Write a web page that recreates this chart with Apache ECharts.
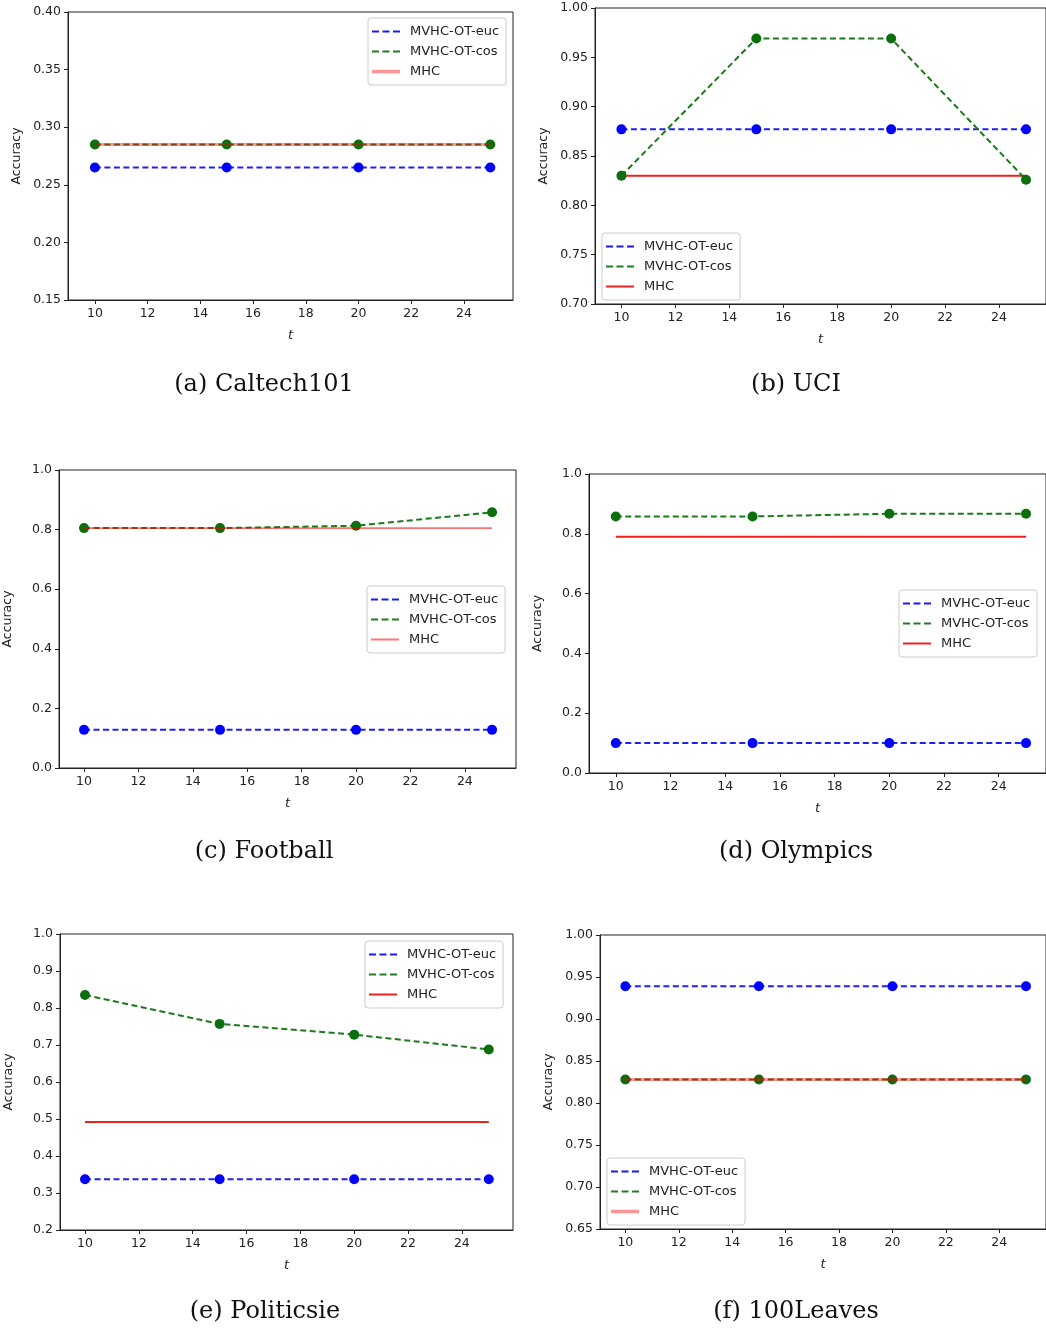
<!DOCTYPE html>
<html>
<head>
<meta charset="utf-8">
<title>Accuracy vs t</title>
<script src="https://cdn.jsdelivr.net/npm/echarts@6/dist/echarts.min.js"></script>
<style>
html,body{margin:0;padding:0;background:#fff;}
#main{width:1046px;height:1330px;}
</style>
</head>
<body>
<div id="main"></div>
<script>
var tValues = [10, 15, 20, 25];
var xTickValues = [10, 12, 14, 16, 18, 20, 22, 24];
var seriesNames = ["MVHC-OT-euc", "MVHC-OT-cos", "MHC"];
var captions = ["(a) Caltech101", "(b) UCI", "(c) Football", "(d) Olympics", "(e) Politicsie", "(f) 100Leaves"];

var caltechEuc = [0.265, 0.265, 0.265, 0.265];
var caltechCos = [0.285, 0.285, 0.285, 0.285];
var caltechMhc = [0.285, 0.285, 0.285, 0.285];
var caltechTicks = [0.15, 0.20, 0.25, 0.30, 0.35, 0.40];

var uciEuc = [0.877, 0.877, 0.877, 0.877];
var uciCos = [0.830, 0.969, 0.969, 0.826];
var uciMhc = [0.830, 0.830, 0.830, 0.830];
var uciTicks = [0.70, 0.75, 0.80, 0.85, 0.90, 0.95, 1.00];

var footballEuc = [0.128, 0.128, 0.128, 0.128];
var footballCos = [0.805, 0.805, 0.813, 0.858];
var footballMhc = [0.805, 0.805, 0.805, 0.805];
var footballTicks = [0.0, 0.2, 0.4, 0.6, 0.8, 1.0];

var olympicsEuc = [0.100, 0.100, 0.100, 0.100];
var olympicsCos = [0.858, 0.858, 0.867, 0.867];
var olympicsMhc = [0.790, 0.790, 0.790, 0.790];
var olympicsTicks = [0.0, 0.2, 0.4, 0.6, 0.8, 1.0];

var politicsEuc = [0.337, 0.337, 0.337, 0.337];
var politicsCos = [0.835, 0.757, 0.728, 0.688];
var politicsMhc = [0.492, 0.492, 0.492, 0.492];
var politicsTicks = [0.2, 0.3, 0.4, 0.5, 0.6, 0.7, 0.8, 0.9, 1.0];

var leavesEuc = [0.939, 0.939, 0.939, 0.939];
var leavesCos = [0.828, 0.828, 0.828, 0.828];
var leavesMhc = [0.828, 0.828, 0.828, 0.828];
var leavesTicks = [0.65, 0.70, 0.75, 0.80, 0.85, 0.90, 0.95, 1.00];

var panelData = [
    {euc: caltechEuc, cos: caltechCos, mhc: caltechMhc, ticks: caltechTicks},
    {euc: uciEuc, cos: uciCos, mhc: uciMhc, ticks: uciTicks},
    {euc: footballEuc, cos: footballCos, mhc: footballMhc, ticks: footballTicks},
    {euc: olympicsEuc, cos: olympicsCos, mhc: olympicsMhc, ticks: olympicsTicks},
    {euc: politicsEuc, cos: politicsCos, mhc: politicsMhc, ticks: politicsTicks},
    {euc: leavesEuc, cos: leavesCos, mhc: leavesMhc, ticks: leavesTicks}
];

// layout of each sub-plot (pixels)
var panelLayout = [
    {left: 68, top: 12, width: 445, height: 288, xmin: 8.98, xmax: 25.86, dec: 2, legend: [368, 18], caption: [264, 385], mhc: "soft"},
    {left: 595, top: 8, width: 451, height: 296, xmin: 9.02, xmax: 25.74, dec: 2, legend: [602, 233], caption: [796, 385], mhc: "red"},
    {left: 59, top: 470, width: 457, height: 298, xmin: 9.08, xmax: 25.88, dec: 1, legend: [367, 586], caption: [264, 852], mhc: "thin"},
    {left: 589, top: 474, width: 457, height: 299, xmin: 9.02, xmax: 25.73, dec: 1, legend: [899, 590], caption: [796, 852], mhc: "red"},
    {left: 60, top: 934, width: 453, height: 296, xmin: 9.07, xmax: 25.9, dec: 1, legend: [365, 941], caption: [265, 1312], mhc: "red"},
    {left: 600, top: 935, width: 446, height: 294, xmin: 9.05, xmax: 25.75, dec: 2, legend: [607, 1158], caption: [796, 1312], mhc: "soft"}
];

var dashIcon = "path://M0,0h7v2h-7zM10.5,0h7v2h-7zM21,0h7v2h-7z";
var solidIcon = "path://M0,0h28v2h-28z";
var thickIcon = "path://M0,0h28v3.5h-28z";
var tickFont = 12.5;

function pairs(ys) {
    var res = [];
    for (var i = 0; i < tValues.length; i++) {
        res.push([tValues[i], ys[i]]);
    }
    return res;
}

function mhcStyle(kind) {
    if (kind == "soft") {
        return {color: "rgba(255,0,0,0.42)", width: 3.2};
    } else if (kind == "thin") {
        return {color: "rgba(255,0,0,0.55)", width: 1.6};
    }
    return {color: "#ee2020", width: 2};
}

function getChartsOptions() {
    var option = {
        animation: false,
        backgroundColor: "#ffffff",
        textStyle: {fontFamily: "DejaVu Sans"},
        grid: [], xAxis: [], yAxis: [], legend: [], series: [], graphic: []
    };
    for (var i = 0; i < panelData.length; i++) {
        var d = panelData[i];
        var p = panelLayout[i];
        var suffix = "#" + i;
        var ms = mhcStyle(p.mhc);
        var ticks = d.ticks;
        option.grid.push({
            left: p.left, top: p.top, width: p.width, height: p.height,
            show: true, borderColor: "#222", borderWidth: 1, backgroundColor: "transparent"
        });
        option.xAxis.push({
            type: "value", gridIndex: i, min: p.xmin, max: p.xmax,
            name: "t", nameLocation: "middle", nameGap: 29,
            nameTextStyle: {fontStyle: "italic", fontSize: 13, color: "#222"},
            axisLine: {show: true, onZero: false, lineStyle: {color: "#222", width: 1}},
            axisTick: {show: true, length: 4, lineStyle: {color: "#222"}, customValues: xTickValues},
            axisLabel: {fontSize: tickFont, color: "#222", margin: 7, customValues: xTickValues},
            splitLine: {show: false}
        });
        option.yAxis.push({
            type: "value", gridIndex: i, min: ticks[0], max: ticks[ticks.length - 1],
            interval: Math.round((ticks[1] - ticks[0]) * 100) / 100,
            name: "Accuracy", nameLocation: "middle", nameGap: 45,
            nameTextStyle: {fontSize: 12.5, color: "#222"},
            axisLine: {show: true, onZero: false, lineStyle: {color: "#222", width: 1}},
            axisTick: {show: true, length: 4, lineStyle: {color: "#222"}, customValues: ticks},
            axisLabel: {
                fontSize: tickFont, color: "#222", margin: 7, customValues: ticks,
                formatter: (function (dec) { return function (v) { return v.toFixed(dec); }; })(p.dec)
            },
            splitLine: {show: false}
        });
        var mhcSeries = {
            name: seriesNames[2] + suffix, type: "line", xAxisIndex: i, yAxisIndex: i,
            data: pairs(d.mhc), symbol: "none", z: p.mhc == "red" ? 1 : 4,
            lineStyle: {color: ms.color, width: ms.width, type: "solid"},
            itemStyle: {color: ms.color}
        };
        if (p.mhc == "red") option.series.push(mhcSeries);
        option.series.push({
            name: seriesNames[0] + suffix, type: "line", xAxisIndex: i, yAxisIndex: i,
            data: pairs(d.euc), symbol: "circle", symbolSize: 10, z: 2,
            lineStyle: {color: "#2020f0", width: 2, type: [6, 3.5]},
            itemStyle: {color: "#0000ff"}
        });
        option.series.push({
            name: seriesNames[1] + suffix, type: "line", xAxisIndex: i, yAxisIndex: i,
            data: pairs(d.cos), symbol: "circle", symbolSize: 10, z: 3,
            lineStyle: {color: "#1a7a1a", width: 2, type: [6, 3.5]},
            itemStyle: {color: "#0c6e0c"}
        });
        if (p.mhc != "red") option.series.push(mhcSeries);

        option.legend.push({
            left: p.legend[0], top: p.legend[1], orient: "vertical",
            selectedMode: false,
            itemWidth: 28, itemHeight: 4, itemGap: 5,
            padding: [6, 7, 6, 4],
            backgroundColor: "rgba(255,255,255,0.85)",
            borderColor: "#cccccc", borderWidth: 1, borderRadius: 3,
            textStyle: {fontSize: 13, color: "#222", lineHeight: 15, padding: [0, 0, 0, 5]},
            formatter: function (name) { return name.split("#")[0]; },
            data: [
                {name: seriesNames[0] + suffix, icon: dashIcon, itemStyle: {color: "#1a1aee"}},
                {name: seriesNames[1] + suffix, icon: dashIcon, itemStyle: {color: "#1f7f1f"}},
                {name: seriesNames[2] + suffix, icon: p.mhc == "soft" ? thickIcon : solidIcon, itemStyle: {color: ms.color}}
            ]
        });
        option.graphic.push({
            type: "text", x: p.caption[0], y: p.caption[1],
            style: {
                text: captions[i], fill: "#111",
                font: "24px 'DejaVu Serif'", textAlign: "center", textVerticalAlign: "middle"
            }
        });
    }
    return option;
}

var myChart = echarts.init(document.getElementById("main"), null, {renderer: "canvas"});
myChart.setOption(getChartsOptions());
</script>
</body>
</html>
